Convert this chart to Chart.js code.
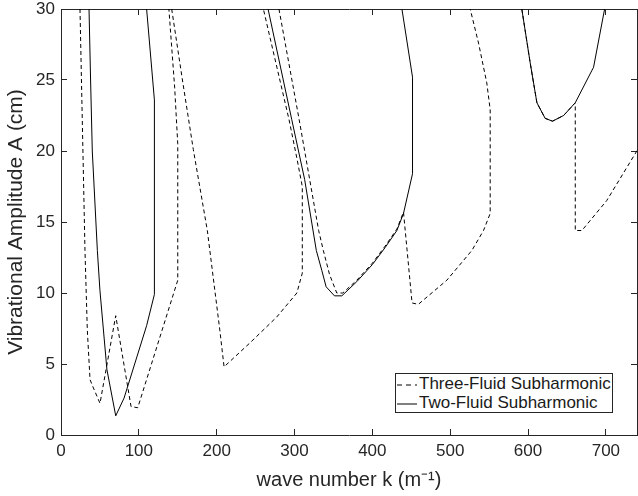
<!DOCTYPE html>
<html>
<head>
<meta charset="utf-8">
<script src="https://cdn.jsdelivr.net/npm/chart.js@4.4.0/dist/chart.umd.min.js"></script>
<style>
body{margin:0;background:#fff;}
#wrap{position:relative;width:638px;height:496px;}
#legend{position:absolute;left:395px;top:373px;width:216px;height:38px;border:1px solid #262626;background:#fff;
  font-family:"Liberation Sans",Arial,sans-serif;font-size:17px;color:#1a1a1a;}
#legend .row{height:19px;line-height:19px;white-space:nowrap;}
#legend svg{vertical-align:middle;margin:0 2px 0 1px;}
</style>
</head>
<body>
<div id="wrap"><canvas id="ikc"></canvas><div id="legend"></div></div>
<script>
// wave number k (1/m) vs vibrational amplitude A (cm), one pair per tongue
var threeK1 = [24.4, 30.8, 33.8, 37.3, 40.2, 50.1, 70.3, 90, 98.6, 150, 150, 146, 138.6];
var threeA1 = [30, 13, 7.4, 3.9, 3.5, 2.23, 8.4, 2.0, 1.92, 10.9, 20.5, 24.5, 30];
var threeK2 = [142.2, 156, 170, 188, 204, 209.5, 243, 277, 303, 310, 310, 303, 293, 260];
var threeA2 = [30, 25, 20.1, 14.4, 7.4, 4.8, 6.5, 8.3, 10.0, 11.4, 17.5, 19.5, 22.2, 30];
var threeK3 = [280, 306, 331, 337, 345, 354.3, 362, 380, 400, 416.4, 431.5, 440, 451, 459, 495.7, 527.9, 542.8, 551.4, 551.4, 547, 536.4, 525.7];
var threeA3 = [30, 22.2, 14.4, 13, 11.3, 10.0, 10.0, 10.9, 12.1, 13.3, 14.5, 15.7, 9.3, 9.2, 10.9, 13.0, 14.4, 15.6, 22.9, 24.8, 27.6, 30];
var threeK4 = [592, 602.8, 611.4, 622, 631.5, 645.7, 660.7, 660.7, 669.2, 701, 742];
var threeA4 = [30, 26.2, 23.4, 22.3, 22.1, 22.5, 23.4, 14.4, 14.4, 16.5, 20.2];

var twoK1 = [36, 38, 40.2, 46.7, 50, 59, 70.3, 81, 110, 120, 120, 110];
var twoA1 = [30, 25, 20, 13, 10.2, 4.6, 1.35, 2.6, 7.7, 9.9, 23.6, 30];
var twoK2 = [266, 296.5, 313, 328, 335, 340.6, 351.3, 360.8, 380, 400, 416.4, 431.5, 440, 451.6, 451.6, 438];
var twoA2 = [30, 22.2, 18, 13, 11.6, 10.44, 9.8, 9.8, 10.8, 12.0, 13.2, 14.4, 15.6, 18.4, 25.2, 30];
var twoK3 = [592, 602.8, 611.4, 622, 631.5, 645.7, 660.7, 684.2, 698.4];
var twoA3 = [30, 26.2, 23.4, 22.3, 22.1, 22.5, 23.4, 25.9, 30];

var lblThree = "Three-Fluid Subharmonic";
var lblTwo = "Two-Fluid Subharmonic";
var kMax = 740, aMax = 30;

var txt = '#262626';
var fam = '"Liberation Sans", Arial, Helvetica, sans-serif';

function tongue(lbl, k, a, dash){
	var pts = [];
	for(var i=0;i<k.length;i++){
		pts.push({x: k[i], y: a[i]});
	}
	return {
		label: lbl,
		data: pts,
		showLine: true,
		borderColor: '#000',
		backgroundColor: '#000',
		borderWidth: 1,
		borderDash: dash,
		pointRadius: 0,
		tension: 0,
		fill: false
	};
}

var dsets = [
	tongue(lblThree, threeK1, threeA1, [4,3]),
	tongue(lblThree, threeK2, threeA2, [4,3]),
	tongue(lblThree, threeK3, threeA3, [4,3]),
	tongue(lblThree, threeK4, threeA4, [4,3]),
	tongue(lblTwo, twoK1, twoA1, []),
	tongue(lblTwo, twoK2, twoA2, []),
	tongue(lblTwo, twoK3, twoA3, [])
];

// fixed axis sizes, no extra label overflow padding
function fixSize(s, w, h){
	if(w !== null) s.width = w;
	if(h !== null) s.height = h;
	s.paddingTop = 0; s.paddingBottom = 0;
	s.paddingLeft = 0; s.paddingRight = 0;
}

// box axes on top/right only carry inward ticks
function boxAxis(pos, max, step){
	return {
		type: 'linear', position: pos, min: 0, max: max,
		ticks: {display: false, stepSize: step, includeBounds: false},
		grid: {drawOnChartArea: false, tickLength: -6, color: txt},
		border: {color: txt, width: 1},
		afterFit: function(s){ if(pos=='top') fixSize(s, null, 0); else fixSize(s, 0, null); }
	};
}

var ctx = document.getElementById('ikc').getContext('2d');
var myChart = new Chart(ctx, {
	type: 'scatter',
	data: {datasets: dsets},
	options: {
		responsive: true,
		maintainAspectRatio: false,
		animation: false,
		layout: {padding: {top: 9, right: 1, left: 0, bottom: 0}},
		plugins: {legend: {display: false}, tooltip: {enabled: false}},
		scales: {
			x: {
				type: 'linear', position: 'bottom', min: 0, max: kMax,
				ticks: {stepSize: 100, includeBounds: false, color: txt, padding: 12, maxRotation: 0,
					font: {family: fam, size: 17}},
				grid: {drawOnChartArea: false, tickLength: -6, color: txt},
				border: {color: txt, width: 1},
				title: {display: true, text: 'wave number k (m\u207B\u00B9)', color: txt,
					font: {family: fam, size: 20}, padding: {top: 0, bottom: 4}},
				afterFit: function(s){ fixSize(s, null, 61); }
			},
			y: {
				type: 'linear', position: 'left', min: 0, max: aMax,
				ticks: {stepSize: 5, includeBounds: false, color: txt, padding: 12,
					font: {family: fam, size: 17}},
				grid: {drawOnChartArea: false, tickLength: -6, color: txt},
				border: {color: txt, width: 1},
				title: {display: true, text: 'Vibrational Amplitude A (cm)', color: txt,
					font: {family: fam, size: 21}, padding: {top: 4, bottom: 0}},
				afterFit: function(s){ fixSize(s, 61, null); }
			},
			x2: boxAxis('top', kMax, 100),
			y2: boxAxis('right', aMax, 5)
		}
	}
});

// legend box drawn over the plot, one row per label
function buildLegend(chart){
	var seen = {}, html = '';
	chart.data.datasets.forEach(function(d){
		if(seen[d.label]) return;
		seen[d.label] = true;
		var dash = d.borderDash.length ? ' stroke-dasharray="5,4"' : '';
		html += '<div class="row"><svg width="20" height="4"><line x1="0" y1="2" x2="20" y2="2" stroke="#000" stroke-width="1"'+dash+'/></svg>'+d.label+'</div>';
	});
	document.getElementById('legend').innerHTML = html;
}
buildLegend(myChart);
</script>
</body>
</html>
